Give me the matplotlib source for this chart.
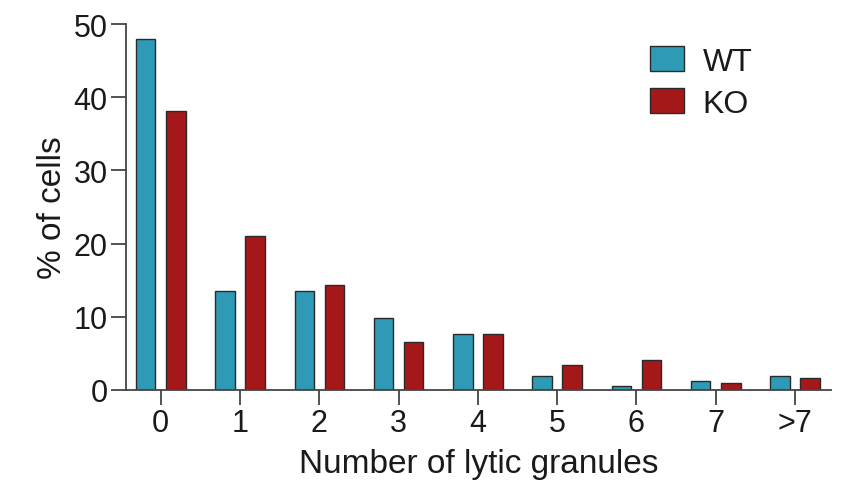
import matplotlib
matplotlib.use("Agg")
import matplotlib.pyplot as plt
import numpy as np

categories = ["0", "1", "2", "3", "4", "5", "6", "7", ">7"]
wt = [48.0, 13.5, 13.5, 9.8, 7.65, 1.9, 0.5, 1.25, 1.9]
ko = [38.2, 21.1, 14.4, 6.5, 7.7, 3.45, 4.1, 0.95, 1.65]
yticks = [0, 10, 20, 30, 40, 50]

plt.rcParams['font.family'] = ['Liberation Sans', 'DejaVu Sans']

fig = plt.figure(figsize=(8.45, 4.85), dpi=100)
ax = fig.add_axes([0.149, 0.194, 0.834, 0.754])

x = np.arange(len(categories))
w = 0.246
off = 0.19
wt_col = '#2E9AB6'
ko_col = '#A5181A'
edge = '#2a2a2a'
ax.bar(x - off, wt, width=w, color=wt_col, edgecolor=edge, linewidth=1.0, label='WT')
ax.bar(x + off, ko, width=w, color=ko_col, edgecolor=edge, linewidth=1.0, label='KO')

ax.set_xlim(-0.44, 8.45)
ax.set_ylim(0, 50)
ax.set_xticks(x)
ax.set_xticklabels(categories)
ax.set_yticks(yticks)

for s in ['top', 'right']:
    ax.spines[s].set_visible(False)
for s in ['left', 'bottom']:
    ax.spines[s].set_color('#444444')
    ax.spines[s].set_linewidth(1.3)

ax.tick_params(axis='both', direction='out', length=11, width=1.3, color='#444444',
               labelsize=22, labelcolor='#1a1a1a', pad=2)

ax.set_ylabel('% of cells', fontsize=24, color='#1a1a1a', labelpad=4)
ax.set_xlabel('Number of lytic granules', fontsize=24, color='#1a1a1a', labelpad=7)

leg = fig.legend(loc='upper left', bbox_to_anchor=(650/845, 1-47/485), frameon=False, fontsize=23,
                 handlelength=1.05, handleheight=0.85, handletextpad=0.6, labelspacing=0.35,
                 borderpad=0, borderaxespad=0)
for t in leg.get_texts():
    t.set_color('#1a1a1a')

fig.savefig('out.png', dpi=100)
